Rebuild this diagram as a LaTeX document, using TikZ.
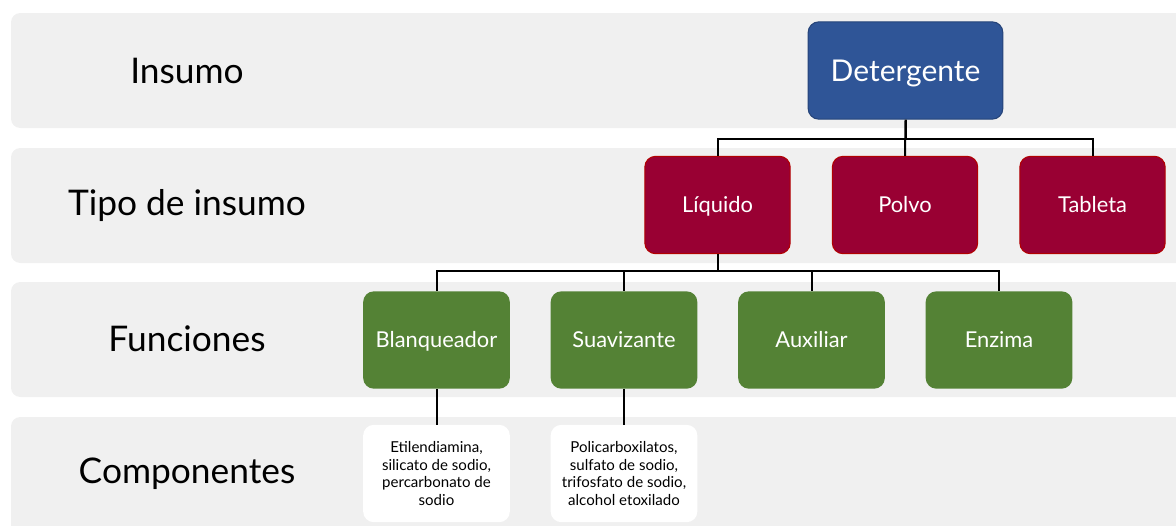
\documentclass[tikz,border=0pt]{standalone}
\usepackage{fontspec}
\setmainfont{Lato}
\definecolor{fondo}{HTML}{F0F0F0}
\definecolor{azul}{HTML}{2F5597}
\definecolor{guinda}{HTML}{990033}
\definecolor{verde}{HTML}{548235}
\tikzset{
	banda/.style={fill=fondo, rounded corners=7pt},
	nivel/.style={font=\fontsize{26.5}{30}\selectfont},
	caja/.style={rounded corners=8pt, minimum width=110pt, minimum height=73pt, align=center, inner sep=2pt},
	raiz/.style={caja, fill=azul, draw=azul!80!black, line width=0.8pt, minimum width=146pt, text=white, text height=16.2pt, text depth=0pt, font=\fontsize{22.5}{26}\selectfont},
	tipo/.style={caja, fill=guinda, draw=red!70!black, line width=0.8pt, minimum width=109pt, text=white, text height=11.8pt, text depth=0pt, font=\fontsize{16.4}{19}\selectfont},
	funcion/.style={caja, fill=verde, text=white, text height=11.8pt, text depth=0pt, font=\fontsize{16.4}{19}\selectfont},
	componente/.style={caja, fill=white, text=black, font=\fontsize{11.3}{13.2}\selectfont},
	linea/.style={line width=1.5pt}
}
\begin{document}
\begin{tikzpicture}[x=0.75pt, y=-0.75pt]
		\useasboundingbox (0,0) rectangle (1176,525);
		\begin{scope}
			\clip (0,0) rectangle (1176,525);
			\fill[banda] (11,13) rectangle (1195,128);
			\fill[banda] (11,148) rectangle (1195,263);
			\fill[banda] (11,282) rectangle (1195,397);
			\fill[banda] (11,417) rectangle (1195,545);
		\end{scope}
		% niveles
		\node[nivel] (n1) at (187,71) {Insumo};
		\node[nivel] (n2) at (187,206) {Tipo de insumo};
		\node[nivel] (n3) at (187,339) {Funciones};
		\node[nivel] (n4) at (187,474) {Componentes};
		% insumo
		\node[raiz] (det) at (905.5,70.5) {Detergente};
		% tipos
		\node[tipo] (liq) at (717.5,205) {Líquido};
		\node[tipo] (pol) at (905,205) {Polvo};
		\node[tipo] (tab) at (1092.5,205) {Tableta};
		% funciones
		\node[funcion] (bla) at (436.5,340) {Blanqueador};
		\node[funcion] (sua) at (624,340) {Suavizante};
		\node[funcion] (aux) at (811.5,340) {Auxiliar};
		\node[funcion] (enz) at (999,340) {Enzima};
		% componentes
		\node[componente] (eti) at (436.5,473.5) {Etilendiamina,\\silicato de sodio,\\percarbonato de\\sodio};
		\node[componente] (pol2) at (624,473.5) {Policarboxilatos,\\sulfato de sodio,\\trifosfato de sodio,\\alcohol etoxilado};
		% conectores
		\draw[linea] (det.south) -- ++(0,19) -| (liq.north);
		\draw[linea] (det.south) -- (pol.north);
		\draw[linea] (det.south) -- ++(0,19) -| (tab.north);
		\draw[linea] (liq.south) -- ++(0,17) -| (bla.north);
		\draw[linea] (liq.south) -- ++(0,17) -| (sua.north);
		\draw[linea] (liq.south) -- ++(0,17) -| (aux.north);
		\draw[linea] (liq.south) -- ++(0,17) -| (enz.north);
		\draw[linea] (bla.south) -- (eti.north);
		\draw[linea] (sua.south) -- (pol2.north);
\end{tikzpicture}
\end{document}
